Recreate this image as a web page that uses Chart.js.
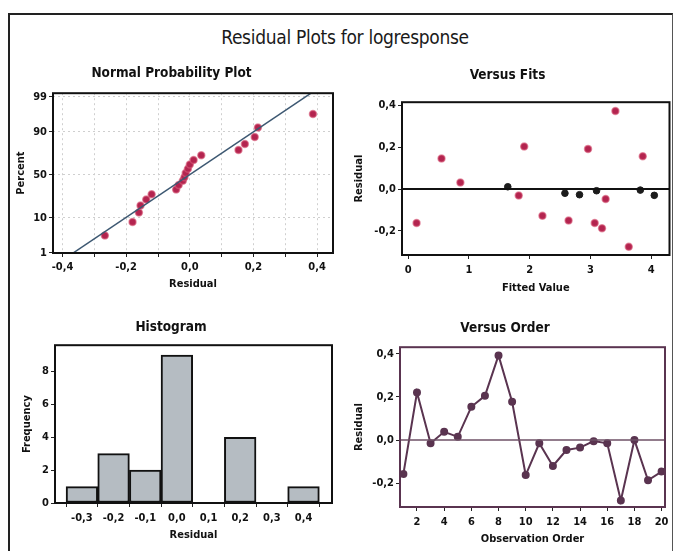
<!DOCTYPE html>
<html>
<head>
<meta charset="utf-8">
<script src="https://cdn.jsdelivr.net/npm/chart.js@4.4.1/dist/chart.umd.min.js"></script>
<style>
html, body { margin: 0; padding: 0; background: #fff; }
#pagina { position: relative; width: 675px; height: 551px; overflow: hidden; font-family: "DejaVu Sans Condensed", "DejaVu Sans", sans-serif; }
#moldura { position: absolute; left: 8px; top: 13px; width: 662px; height: 560px; border-left: 2px solid #222; border-top: 2px solid #222; border-right: 1px solid #555; }
#titulo { position: absolute; left: 0; top: 26px; width: 690px; text-align: center; font-size: 19px; color: #1a1a1a; letter-spacing: -0.3px; }
.quadro { position: absolute; }
</style>
</head>
<body>
<div id="pagina">
  <div id="moldura"></div>
  <div id="titulo">Residual Plots for logresponse</div>
  <div class="quadro" style="left:10px;top:60px;width:330px;height:240px"><canvas id="normal"></canvas></div>
  <div class="quadro" style="left:345px;top:60px;width:330px;height:240px"><canvas id="ajustes"></canvas></div>
  <div class="quadro" style="left:10px;top:305px;width:330px;height:246px"><canvas id="histograma"></canvas></div>
  <div class="quadro" style="left:345px;top:305px;width:330px;height:246px"><canvas id="ordem"></canvas></div>
</div>
<script>
// Normal probability plot (residuos ordenados e percentuais)
const residuosNormal = [-0.267, -0.18, -0.16, -0.155, -0.137, -0.12, -0.043, -0.035, -0.022, -0.017,
                        -0.013, -0.006, 0.0, 0.012, 0.036, 0.153, 0.173, 0.204, 0.214, 0.387];
const percentuais = [3.5, 8, 13, 18, 23, 28, 33, 38, 43, 47, 52, 57, 62, 67, 72, 77, 82, 87, 92, 96.5];
const retaX = [-0.366, 0.385];
const retaPct = [1, 99.3];
const ticksPct = [1, 10, 50, 90, 99];

// Versus fits
const ajustadosVermelho = [0.14, 0.55, 0.86, 1.91, 1.82, 2.21, 2.64, 2.96, 3.07, 3.19, 3.25, 3.41, 3.63, 3.86];
const residuosVermelho = [-0.162, 0.146, 0.031, 0.203, -0.031, -0.128, -0.15, 0.192, -0.162, -0.187, -0.047, 0.373, -0.276, 0.157];
const ajustadosPreto = [1.64, 2.58, 2.82, 3.10, 3.82, 4.05];
const residuosPreto = [0.011, -0.02, -0.027, -0.008, -0.005, -0.03];

// Histograma
const centrosClasse = [-0.3, -0.2, -0.1, 0.0, 0.1, 0.2, 0.3, 0.4];
const frequencias = [1, 3, 2, 9, 0, 4, 0, 1];

// Versus order
const observacoes = [1, 2, 3, 4, 5, 6, 7, 8, 9, 10, 11, 12, 13, 14, 15, 16, 17, 18, 19, 20];
const residuosOrdem = [-0.157, 0.22, -0.015, 0.038, 0.015, 0.154, 0.205, 0.392, 0.177, -0.162,
                       -0.015, -0.12, -0.046, -0.035, -0.005, -0.015, -0.28, 0.0, -0.186, -0.146];

const FONTE = '"DejaVu Sans Condensed", "DejaVu Sans", sans-serif';
const VERMELHO = '#b3244f';
const ROXO = '#5a3450';

// quantil da normal padrao (Acklam), para a escala de probabilidade
function probit(p) {
    const a = [-39.69683028665376, 220.9460984245205, -275.9285104469687, 138.357751867269, -30.66479806614716, 2.506628277459239];
    const b = [-54.47609879822406, 161.5858368580409, -155.6989798598866, 66.80131188771972, -13.28068155288572];
    const c = [-0.007784894002430293, -0.3223964580411365, -2.400758277161838, -2.549732539343734, 4.374664141464968, 2.938163982698783];
    const d = [0.007784695709041462, 0.3224671290700398, 2.445134137142996, 3.754408661907416];
    const pl = 0.02425;
    let q, r;
    if (p < pl) {
        q = Math.sqrt(-2 * Math.log(p));
        return (((((c[0]*q+c[1])*q+c[2])*q+c[3])*q+c[4])*q+c[5]) / ((((d[0]*q+d[1])*q+d[2])*q+d[3])*q+1);
    }
    if (p > 1 - pl) {
        q = Math.sqrt(-2 * Math.log(1 - p));
        return -(((((c[0]*q+c[1])*q+c[2])*q+c[3])*q+c[4])*q+c[5]) / ((((d[0]*q+d[1])*q+d[2])*q+d[3])*q+1);
    }
    q = p - 0.5; r = q * q;
    return (((((a[0]*r+a[1])*r+a[2])*r+a[3])*r+a[4])*r+a[5])*q / (((((b[0]*r+b[1])*r+b[2])*r+b[3])*r+b[4])*r+1);
}
const z = (pct) => probit(pct / 100);

function virgula(v, casas) {
    if (Math.abs(v) < 1e-9) v = 0;
    return v.toFixed(casas).replace('.', ',');
}

// contorno da area do grafico e linha de referencia em zero
const pluginMoldura = {
    id: 'moldura',
    afterDatasetsDraw(chart, args, opts) {
        const {ctx, chartArea: a} = chart;
        ctx.save();
        if (opts.zero) {
            const y = chart.scales.y.getPixelForValue(0);
            ctx.strokeStyle = opts.zero.cor;
            ctx.lineWidth = opts.zero.largura;
            ctx.beginPath();
            ctx.moveTo(a.left, y);
            ctx.lineTo(a.right, y);
            ctx.stroke();
        }
        ctx.strokeStyle = opts.cor || '#111';
        ctx.lineWidth = 2;
        ctx.strokeRect(a.left, a.top, a.right - a.left, a.bottom - a.top);
        ctx.restore();
    }
};
Chart.register(pluginMoldura);

Chart.defaults.font.family = FONTE;
Chart.defaults.font.weight = 'bold';
Chart.defaults.color = '#111';

function titulo(texto, topo, baixo) {
    return {
        display: true, text: texto, color: '#111',
        font: {family: FONTE, size: 13.5, weight: 'bold', lineHeight: 1.2},
        padding: {top: topo, bottom: baixo}
    };
}

function eixoX(opcoes, altura, padTick, padTitulo, texto) {
    return Object.assign({
        type: 'linear',
        afterFit: (s) => { s.height = altura; },
        border: {display: false},
        grid: {drawOnChartArea: false, tickLength: 4, tickColor: '#222', tickWidth: 1},
        title: {display: true, text: texto, color: '#111', font: {size: 11, weight: 'bold', lineHeight: 1.2}, padding: {top: 0, bottom: padTitulo}},
    }, opcoes, {
        ticks: Object.assign({font: {size: 11, weight: 'bold'}, color: '#111', padding: padTick, maxRotation: 0, includeBounds: false, autoSkip: false}, opcoes.ticks || {})
    });
}

function eixoY(opcoes, largura, padTitulo, texto) {
    return Object.assign({
        type: 'linear',
        afterFit: (s) => { s.width = largura; },
        border: {display: false},
        grid: {drawOnChartArea: false, tickLength: 4, tickColor: '#222', tickWidth: 1},
        title: {display: true, text: texto, color: '#111', font: {size: 11, weight: 'bold', lineHeight: 1.2}, padding: {top: padTitulo, bottom: 0}},
    }, opcoes, {
        ticks: Object.assign({font: {size: 11, weight: 'bold'}, color: '#111', padding: 2, includeBounds: false, autoSkip: false}, opcoes.ticks || {})
    });
}

const gradeTracejada = {drawOnChartArea: true, color: '#cfcfcf', tickLength: 4, tickColor: '#222', tickBorderDash: [], lineWidth: 1};
const bordaTracejada = {display: false, dash: [2, 3]};

const base = {
    responsive: true,
    maintainAspectRatio: false,
    animation: false,
    events: [],
};

function main() {
    // Normal Probability Plot
    new Chart(document.getElementById('normal'), {
        type: 'scatter',
        data: {
            datasets: [
                {
                    type: 'line',
                    data: retaX.map((x, i) => ({x: x, y: z(retaPct[i])})),
                    borderColor: '#3d5872',
                    borderWidth: 1.5,
                    pointRadius: 0,
                    fill: false,
                    clip: 0
                },
                {
                    data: residuosNormal.map((x, i) => ({x: x, y: z(percentuais[i])})),
                    backgroundColor: VERMELHO,
                    borderColor: 'rgba(215,90,120,0.6)',
                    borderWidth: 1.5,
                    pointRadius: 3.5
                }
            ]
        },
        options: Object.assign({}, base, {
            layout: {padding: {left: 0, right: 7, top: 0, bottom: 0}},
            plugins: {legend: {display: false}, tooltip: {enabled: false},
                      title: titulo('Normal Probability Plot', 5, 12), moldura: {cor: '#111'}},
            scales: {
                x: eixoX({min: -0.43, max: 0.45, grid: gradeTracejada, border: bordaTracejada,
                          ticks: {stepSize: 0.1, callback: (v) => Math.abs(Math.round(v * 10)) % 2 === 0 ? virgula(v, 1) : ''}},
                         47, 4, 9, 'Residual'),
                y: eixoY({min: z(1) - 0.005, max: 2.43, grid: gradeTracejada, border: bordaTracejada,
                          afterBuildTicks: (s) => { s.ticks = ticksPct.map((p) => ({value: z(p)})); },
                          ticks: {callback: (v, i) => String(ticksPct[i])}},
                         43, 5, 'Percent')
            }
        })
    });

    // Versus Fits
    new Chart(document.getElementById('ajustes'), {
        type: 'scatter',
        data: {
            datasets: [
                {
                    data: ajustadosVermelho.map((x, i) => ({x: x, y: residuosVermelho[i]})),
                    backgroundColor: VERMELHO,
                    borderColor: 'rgba(215,90,120,0.6)',
                    borderWidth: 1.5,
                    pointRadius: 3.5
                },
                {
                    data: ajustadosPreto.map((x, i) => ({x: x, y: residuosPreto[i]})),
                    backgroundColor: '#1c1c1c',
                    borderColor: '#1c1c1c',
                    borderWidth: 1,
                    pointRadius: 3.3
                }
            ]
        },
        options: Object.assign({}, base, {
            layout: {padding: {left: 0, right: 5, top: 0, bottom: 0}},
            plugins: {legend: {display: false}, tooltip: {enabled: false},
                      title: titulo('Versus Fits', 7, 19), moldura: {cor: '#111', zero: {cor: '#111', largura: 2}}},
            scales: {
                x: eixoX({min: -0.1, max: 4.3, ticks: {stepSize: 1, callback: (v) => String(Math.round(v))}},
                         45, 5, 5, 'Fitted Value'),
                y: eixoY({min: -0.315, max: 0.415, ticks: {stepSize: 0.2, callback: (v) => virgula(v, 1)}},
                         57, 8, 'Residual')
            }
        })
    });

    // Histogram
    new Chart(document.getElementById('histograma'), {
        type: 'bar',
        data: {
            datasets: [{
                data: centrosClasse.map((x, i) => ({x: x, y: frequencias[i]})),
                backgroundColor: '#b5bcc2',
                borderColor: '#111',
                borderWidth: 2,
                borderSkipped: false,
                barPercentage: 1,
                categoryPercentage: 1
            }]
        },
        options: Object.assign({}, base, {
            layout: {padding: {left: 0, right: 8, top: 0, bottom: 0}},
            plugins: {legend: {display: false}, tooltip: {enabled: false},
                      title: titulo('Histogram', 14, 10), moldura: {cor: '#111'}},
            scales: {
                x: eixoX({min: -0.385, max: 0.49, offset: false,
                          ticks: {stepSize: 0.1, callback: (v) => virgula(v, 1)}},
                         48, 5, 9, 'Residual'),
                y: eixoY({min: 0, max: 9.6, ticks: {stepSize: 2, callback: (v) => String(v)}},
                         45, 11, 'Frequency')
            }
        })
    });

    // Versus Order
    new Chart(document.getElementById('ordem'), {
        type: 'line',
        data: {
            datasets: [{
                data: observacoes.map((x, i) => ({x: x, y: residuosOrdem[i]})),
                borderColor: ROXO,
                backgroundColor: ROXO,
                borderWidth: 2,
                pointRadius: 3,
                tension: 0,
                fill: false
            }]
        },
        options: Object.assign({}, base, {
            layout: {padding: {left: 0, right: 10, top: 0, bottom: 0}},
            plugins: {legend: {display: false}, tooltip: {enabled: false},
                      title: titulo('Versus Order', 15, 11), moldura: {cor: ROXO, zero: {cor: '#6e5166', largura: 1.5}}},
            scales: {
                x: eixoX({min: 0.75, max: 20.25, ticks: {stepSize: 2, callback: (v) => String(Math.round(v))}},
                         44, 5, 5, 'Observation Order'),
                y: eixoY({min: -0.31, max: 0.43, ticks: {stepSize: 0.2, callback: (v) => virgula(v, 1)}},
                         55, 8, 'Residual')
            }
        })
    });
}

window.addEventListener('DOMContentLoaded', main);
</script>
</body>
</html>
